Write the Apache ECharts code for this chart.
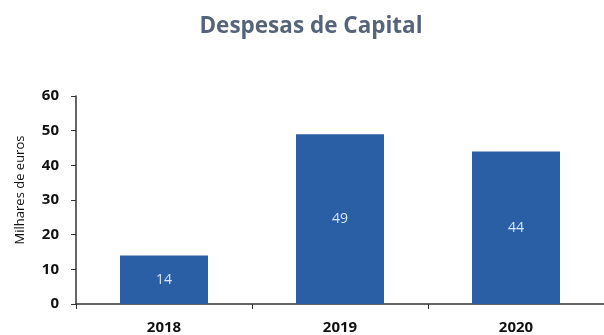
<!DOCTYPE html>
<html><head><meta charset="utf-8">
<script src="https://cdn.jsdelivr.net/npm/echarts@6/dist/echarts.min.js"></script>
<style>html,body{margin:0;padding:0;background:#fff}#c{width:604px;height:335px}</style>
</head><body><div id="c"></div>
<script>
var categories = ['2018', '2019', '2020'];
var values = [14, 49, 44];
var yTicks = [0, 10, 20, 30, 40, 50, 60];
var title = 'Despesas de Capital';
var yName = 'Milhares de euros';

var chart = echarts.init(document.getElementById('c'));
chart.setOption({
  animation: false,
  title: {text: title, left: 306, top: 10, textAlign: 'center',
    textStyle: {fontFamily: 'Open Sans', fontWeight: 'bold', fontSize: 22.5, color: '#56647a'}},
  grid: {left: 76, top: 96, width: 536, height: 209},
  xAxis: {type: 'category', data: categories,
    axisLine: {lineStyle: {color: '#333', width: 1.5}},
    axisTick: {show: true, length: 5, inside: false, lineStyle: {color: '#333'}},
    axisLabel: {fontFamily: 'Open Sans', fontWeight: 'bold', fontSize: 15, color: '#111', margin: 16}},
  yAxis: {type: 'value', min: yTicks[0], max: yTicks[yTicks.length - 1], interval: 10,
    name: yName, nameLocation: 'middle', nameGap: 49,
    nameTextStyle: {fontFamily: 'Open Sans', fontSize: 13, color: '#111', padding: [0, 0, 0, 20]},
    axisLine: {show: true, lineStyle: {color: '#333', width: 1.5}},
    axisTick: {show: true, length: 5, lineStyle: {color: '#333'}},
    splitLine: {show: false},
    axisLabel: {fontFamily: 'Open Sans', fontWeight: 'bold', fontSize: 15, color: '#111', margin: 17}},
  series: [{type: 'bar', data: values, barWidth: '50%',
    itemStyle: {color: '#2a5fa5'},
    label: {show: true, position: 'inside', color: '#d6e6f7',
      fontFamily: 'Open Sans', fontSize: 14}}]
});
</script></body></html>
